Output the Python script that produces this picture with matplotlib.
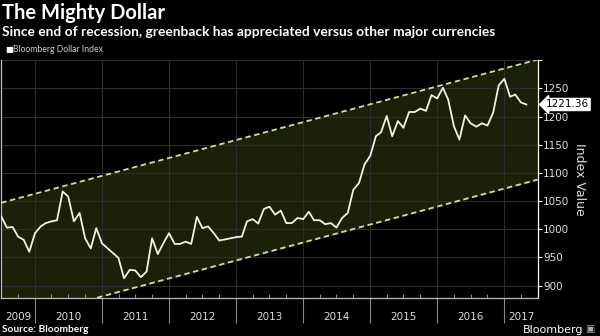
import matplotlib
matplotlib.use("Agg")
from matplotlib import pyplot as plt
import matplotlib.dates as mdates
from matplotlib.ticker import FixedLocator
import pandas as pd

# monthly Bloomberg Dollar Index, Jul 2009 - May 2017
start_month = "2009-07-01"
index_values = [
    1023, 1003, 1004, 987, 981, 960,                                # 2009
    993, 1005, 1011, 1014, 1016, 1067, 1058, 1014, 1029, 984, 966, 1002,   # 2010
    975, 966, 958, 949, 913, 928, 927, 915, 925, 984, 956, 975,       # 2011
    993, 974, 974, 978, 974, 1022, 1002, 1005, 993, 980, 982, 984,    # 2012
    986, 987, 1014, 1018, 1010, 1036, 1040, 1026, 1033, 1011, 1011, 1020,  # 2013
    1018, 1031, 1016, 1016, 1009, 1011, 1003, 1020, 1029, 1070, 1082, 1115,  # 2014
    1130, 1165, 1172, 1201, 1165, 1192, 1180, 1208, 1208, 1214, 1210, 1238,  # 2015
    1232, 1251, 1230, 1183, 1159, 1202, 1188, 1182, 1188, 1184, 1207, 1255,  # 2016
    1267, 1235, 1239, 1225, 1221.36,                                  # 2017
]
last_value = 1221.36

# trend channel end points
channel_dates = ["2009-07-01", "2017-07-01"]
channel_upper = [1047, 1301]
channel_lower = [833, 1088]

years = [2009, 2010, 2011, 2012, 2013, 2014, 2015, 2016, 2017]
y_ticks = [900, 950, 1000, 1050, 1100, 1150, 1200, 1250, 1300]

dates = pd.date_range(start_month, periods=len(index_values), freq="MS")
ch_x = pd.to_datetime(channel_dates)

fig = plt.figure(figsize=(6, 3.36), dpi=100, facecolor="black")
ax = fig.add_axes([0.002, 0.113, 0.894, 0.708], facecolor="black")

ax.fill_between(ch_x, channel_lower, channel_upper, color="#1b2008", zorder=1)
ax.plot(ch_x, channel_upper, color="#cfe0a6", lw=1.3, ls=(0, (3, 2)), zorder=3)
ax.plot(ch_x, channel_lower, color="#cfe0a6", lw=1.3, ls=(0, (3, 2)), zorder=3)
ax.plot(dates, index_values, color="#f2f2e4", lw=1.3, zorder=4)

x0 = pd.Timestamp("2009-07-01")
x1 = pd.Timestamp("2017-07-01")
ax.set_xlim(x0, x1)
ax.set_ylim(878, 1300)

# y axis on the right
ax.yaxis.tick_right()
ax.set_yticks(y_ticks)
ax.set_yticklabels([str(v) if v < 1300 else "" for v in y_ticks])
ax.tick_params(axis="y", colors="white", labelcolor="#dddddd", labelsize=7.5,
               length=3, width=0.8, pad=1)
ax.yaxis.set_label_position("right")
ax.set_ylabel("Index Value", color="#dddddd", fontsize=9, rotation=270, labelpad=12)

# x axis: long ticks at year boundaries, small quarter ticks inside
boundaries = [pd.Timestamp(f"{y}-01-01") for y in years[1:]]
ax.xaxis.set_major_locator(FixedLocator(mdates.date2num(boundaries)))
ax.xaxis.set_minor_locator(mdates.MonthLocator(bymonth=[4, 7, 10]))
ax.set_xticklabels([])
ax.tick_params(axis="x", which="major", direction="out", length=18, width=0.8,
               color="#8a8a8a")
ax.tick_params(axis="x", which="minor", direction="in", length=3, width=0.8,
               color="#8a8a8a")
edges = [x0] + boundaries + [x1]
for i, y in enumerate(years):
    mid = edges[i] + (edges[i + 1] - edges[i]) / 2
    ax.text(mid, -0.08, str(y), transform=ax.get_xaxis_transform(),
            ha="center", va="center", color="#dddddd", fontsize=7.5)

ax.grid(True, which="major", color="#2e2e2e", lw=0.8, zorder=0)
ax.spines["top"].set_visible(False)
ax.spines["right"].set_color("white")
ax.spines["left"].set_color("#bbbbbb")
ax.spines["bottom"].set_color("#bbbbbb")
for s in ["left", "right", "bottom"]:
    ax.spines[s].set_linewidth(0.9)

# last value tag
ax.annotate(f"{last_value:.2f}", xy=(1.0, last_value),
            xycoords=ax.get_yaxis_transform(), xytext=(6, 0),
            textcoords="offset points", ha="left", va="center",
            fontsize=7.5, color="black",
            bbox=dict(boxstyle="larrow,pad=0.1", fc="white", ec="white"))

fig.text(0.004, 0.962, "The Mighty Dollar", color="white", fontsize=14.5,
         fontweight="bold", va="center", family="Lato")
fig.text(0.004, 0.905,
         "Since end of recession, greenback has appreciated versus other major currencies",
         color="white", fontsize=9.9, fontweight="bold", va="center",
         family="Lato")
fig.text(0.009, 0.854, "\u25a0", color="white", fontsize=6, va="center")
fig.text(0.021, 0.854, "Bloomberg Dollar Index", color="#cccccc", fontsize=6.2,
         va="center", family="Lato")
fig.text(0.004, 0.02, "Source: Bloomberg", color="white", fontsize=7.3,
         fontweight="bold", va="center", family="Lato")
fig.text(0.972, 0.018, "Bloomberg", color="white", fontsize=8, ha="right",
         va="center")
fig.text(0.99, 0.02, "\u25a3", color="#aaaaaa", fontsize=7, ha="right", va="center")

plt.savefig("out.png", dpi=100, facecolor="black")
